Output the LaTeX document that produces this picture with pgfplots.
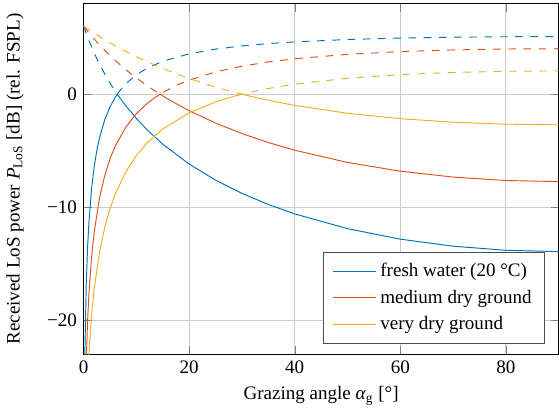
\documentclass[border=0pt]{standalone}
\usepackage{fontspec}
\setmainfont{Liberation Serif}
\usepackage{pgfplots}
\pgfplotsset{compat=1.18}
\definecolor{mblue}{rgb}{0,0.447,0.741}
\definecolor{morange}{rgb}{0.85,0.325,0.098}
\definecolor{myellow}{rgb}{0.929,0.694,0.125}

\begin{document}
\begin{tikzpicture}
\begin{axis}[
  width=249.5pt, height=184pt, scale only axis,
  xmin=0, xmax=90, ymin=-23, ymax=8,
  xtick={0,20,40,60,80},
  ytick={-20,-10,0}, yticklabels={−20,−10,0},
  /pgf/number format/assume math mode=true,
  grid=major,
  major grid style={black!20},
  xlabel={Grazing angle \textit{α}\textsubscript{g} [°]},
  ylabel={Received LoS power \textit{P}\textsubscript{LoS} [dB] (rel. FSPL)},
  ylabel shift=5.5pt,
  legend pos=south east,
  legend cell align=left,
  legend style={draw=black!70, inner xsep=4.5pt, inner ysep=3.5pt, row sep=1.6pt},
  legend image code/.code={\draw[#1] (0cm,0cm) -- (0.8cm,0cm);},
  every axis plot/.append style={line width=0.5pt},
  mdash/.style={dash pattern=on 4pt off 4pt},
]
% solid = 20 log(1-|Gamma|)
\addplot[mblue] coordinates {(0.1,-30.19)(0.25,-22.43)(0.5,-16.73)(0.75,-13.52)(1,-11.32)(1.5,-8.373)(2,-6.410)(2.5,-4.977)(3,-3.871)(4,-2.255)(5,-1.118)(6,-0.269)(6.379,0)(7,-0.411)(8,-1.033)(10,-2.153)(12,-3.140)(15,-4.425)(20,-6.184)(25,-7.604)(30,-8.776)(35,-9.759)(40,-10.592)(50,-11.898)(60,-12.828)(70,-13.452)(80,-13.813)(90,-13.931)};
\addplot[morange] coordinates {(0.25,-29.27)(0.5,-23.40)(0.75,-20.03)(1,-17.67)(1.5,-14.43)(2,-12.20)(3,-9.198)(4,-7.190)(5,-5.718)(6,-4.576)(8,-2.903)(10,-1.720)(12,-0.834)(13,-0.469)(14.478,0)(16,-0.432)(18,-0.963)(20,-1.458)(25,-2.554)(30,-3.484)(35,-4.278)(40,-4.959)(50,-6.039)(60,-6.814)(70,-7.335)(80,-7.637)(90,-7.735)};
\addplot[myellow] coordinates {(0.5,-28.79)(1,-22.93)(1.5,-19.56)(2,-17.21)(3,-13.99)(4,-11.78)(5,-10.13)(6,-8.822)(8,-6.855)(10,-5.426)(12,-4.328)(15,-3.081)(20,-1.649)(25,-0.685)(28,-0.248)(30,0)(32,-0.226)(35,-0.537)(40,-0.990)(50,-1.687)(60,-2.167)(70,-2.478)(80,-2.653)(90,-2.709)};
% dashed = 20 log(1+|Gamma|)
\addplot[mblue, mdash, forget plot] coordinates {(0,6.021)(0.25,5.686)(0.5,5.364)(0.75,5.053)(1,4.753)(1.5,4.183)(2,3.648)(2.5,3.144)(3,2.668)(4,1.788)(5,0.991)(6,0.261)(6.379,0)(7,0.392)(8,0.923)(10,1.724)(12,2.301)(15,2.917)(20,3.576)(25,3.991)(30,4.275)(35,4.480)(40,4.632)(50,4.840)(60,4.968)(70,5.045)(80,5.087)(90,5.100)};
\addplot[morange, mdash, forget plot] coordinates {(0,6.021)(0.25,5.870)(0.5,5.722)(0.75,5.576)(1,5.433)(1.5,5.154)(2,4.883)(3,4.366)(4,3.879)(5,3.418)(6,2.982)(8,2.172)(10,1.435)(12,0.761)(13,0.445)(14.478,0)(16,0.412)(18,0.867)(20,1.248)(25,1.971)(30,2.480)(35,2.854)(40,3.137)(50,3.528)(60,3.771)(70,3.919)(80,4.000)(90,4.026)};
\addplot[myellow, mdash, forget plot] coordinates {(0,6.021)(0.25,5.941)(0.5,5.861)(1,5.705)(1.5,5.551)(2,5.400)(3,5.107)(4,4.823)(5,4.550)(6,4.285)(8,3.783)(10,3.314)(12,2.875)(15,2.270)(20,1.385)(25,0.635)(28,0.241)(30,0)(32,0.220)(35,0.506)(40,0.888)(50,1.412)(60,1.733)(70,1.926)(80,2.029)(90,2.062)};
\legend{fresh water (20\ °C), medium dry ground, very dry ground}
\end{axis}
\path (current axis.north) -- ++(0,2pt);
\end{tikzpicture}
\end{document}
